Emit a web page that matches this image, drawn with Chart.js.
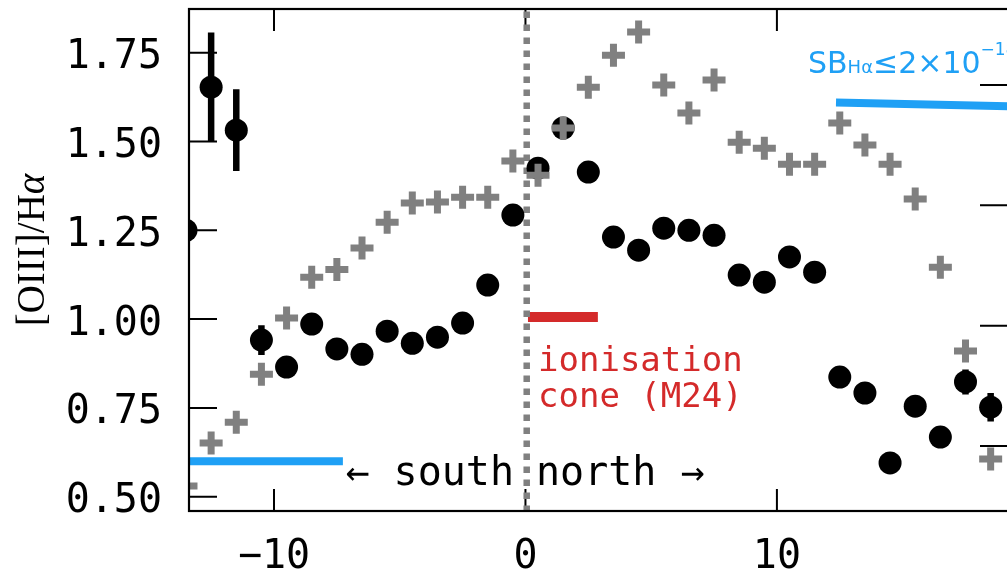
<!DOCTYPE html>
<html>
<head>
<meta charset="utf-8">
<script src="https://cdn.jsdelivr.net/npm/chart.js@4.4.1/dist/chart.umd.min.js"></script>
<style>
  html, body { margin: 0; padding: 0; background: #fff; overflow: hidden; }
  #wrap { width: 1040px; height: 573px; }
</style>
</head>
<body>
<div id="wrap"><canvas id="myChart"></canvas></div>
<script>
// offsets along the slit (x axis)
const positions = [-13.5, -12.5, -11.5, -10.5, -9.5, -8.5, -7.5, -6.5, -5.5, -4.5, -3.5,
  -2.5, -1.5, -0.5, 0.5, 1.5, 2.5, 3.5, 4.5, 5.5, 6.5, 7.5, 8.5, 9.5, 10.5, 11.5, 12.5,
  13.5, 14.5, 15.5, 16.5, 17.5, 18.5];

// black circles: [OIII]/Ha
const circleRatio = [1.25, 1.653, 1.532, 0.941, 0.865, 0.986, 0.916, 0.901, 0.966, 0.932, 0.949,
  0.989, 1.096, 1.293, 1.425, 1.538, 1.414, 1.231, 1.194, 1.256, 1.25, 1.236, 1.124, 1.104, 1.175,
  1.132, 0.837, 0.792, 0.595, 0.755, 0.668, 0.823, 0.752];
const circleErr = [0, 0.154, 0.115, 0.042, 0, 0, 0, 0, 0, 0, 0,
  0, 0, 0, 0, 0, 0, 0, 0, 0, 0, 0, 0, 0, 0,
  0, 0, 0, 0, 0, 0, 0.035, 0.04];

// grey crosses
const crossRatio = [0.53, 0.651, 0.71, 0.845, 1.003, 1.118, 1.14, 1.2, 1.273, 1.327, 1.33,
  1.343, 1.343, 1.445, 1.405, 1.538, 1.653, 1.743, 1.808, 1.659, 1.58, 1.673, 1.498, 1.481, 1.436,
  1.436, 1.552, 1.49, 1.436, 1.338, 1.146, 0.91, 0.606];

// reference lines
const coneX = [0.1, 2.88];
const coneY = [1.006, 1.006];
const sbSouthX = [-13.6, -7.26];
const sbSouthY = [0.60, 0.60];
const sbNorthX = [12.35, 19.5];
const sbNorthY = [1.6095, 1.599];
const centreX = 0.05;

const xTicks = [-10, 0, 10];
const yTicks = [0.50, 0.75, 1.00, 1.25, 1.50, 1.75];
const rightTicks = [0, 1, 2, 3];

const xMin = -13.42, xMax = 19.19;
const yMin = 0.457, yMax = 1.873;

const pts = (xs, ys) => xs.map((v, i) => ({ x: v, y: ys[i] }));

const MONO = "'DejaVu Sans Mono'";
Chart.defaults.font.family = MONO;
Chart.defaults.color = '#000';

const noPad = s => { s.paddingTop = 0; s.paddingBottom = 0; s.paddingLeft = 0; s.paddingRight = 0; };

const decor = {
  id: 'decor',
  beforeDatasetsDraw(chart) {
    const { ctx, chartArea: a, scales: { x, y, y2 } } = chart;
    ctx.save();
    ctx.strokeStyle = '#000';
    ctx.lineWidth = 2;
    ctx.beginPath();
    xTicks.forEach(v => {
      const px = x.getPixelForValue(v);
      ctx.moveTo(px, a.bottom); ctx.lineTo(px, a.bottom - 23);
      ctx.moveTo(px, a.top); ctx.lineTo(px, a.top + 22);
    });
    yTicks.forEach(v => {
      const py = y.getPixelForValue(v);
      ctx.moveTo(a.left, py); ctx.lineTo(a.left + 29, py);
    });
    rightTicks.forEach(v => {
      const py = y2.getPixelForValue(v);
      ctx.moveTo(a.right, py); ctx.lineTo(a.right - 28, py);
    });
    ctx.stroke();

    // error bars
    ctx.beginPath();
    ctx.rect(a.left, a.top, a.right - a.left, a.bottom - a.top);
    ctx.clip();
    ctx.lineWidth = 6.5;
    ctx.beginPath();
    circleErr.forEach((e, i) => {
      if (!e) return;
      const px = x.getPixelForValue(positions[i]);
      ctx.moveTo(px, y.getPixelForValue(circleRatio[i] - e));
      ctx.lineTo(px, y.getPixelForValue(circleRatio[i] + e));
    });
    ctx.stroke();
    ctx.restore();
  },
  afterDatasetsDraw(chart) {
    const { ctx, chartArea: a } = chart;
    ctx.save();
    ctx.strokeStyle = '#000';
    ctx.lineWidth = 2.2;
    ctx.strokeRect(a.left + 1, a.top, a.right - a.left, a.bottom - a.top - 1);
    ctx.restore();
  },
  afterDraw(chart) {
    const { ctx } = chart;
    ctx.save();

    // cone label
    ctx.fillStyle = '#d42a2a';
    ctx.font = '34px ' + MONO;
    ctx.textAlign = 'left';
    ctx.textBaseline = 'alphabetic';
    ctx.fillText('ionisation', 538, 371);
    ctx.fillText('cone (M24)', 538, 407);

    // south / north
    ctx.fillStyle = '#000';
    ctx.font = '40px ' + MONO;
    ctx.textAlign = 'right';
    ctx.fillText('\u2190 south', 514, 485);
    ctx.textAlign = 'left';
    ctx.fillText('north \u2192', 536, 485);

    // SB label
    const sb = "'DejaVu Sans'";
    ctx.fillStyle = '#1fa0f5';
    let cx = 808;
    const part = (t, size, base) => {
      ctx.font = size + 'px ' + sb;
      ctx.fillText(t, cx, base);
      cx += ctx.measureText(t).width;
    };
    part('SB', 30, 73);
    part('H\u03b1', 18, 73);
    part('\u2264', 30, 73);
    part('2\u00d710', 30, 73);
    part('\u221218', 17, 55);

    // y axis title
    ctx.fillStyle = '#000';
    ctx.translate(44, 250);
    ctx.rotate(-Math.PI / 2);
    const f1 = "39px 'Liberation Serif'";
    const f2 = "italic 39px 'Liberation Serif'";
    ctx.font = f1;
    const w1 = ctx.measureText('[OIII]/H').width;
    ctx.font = f2;
    const w2 = ctx.measureText('\u03b1').width;
    const start = -(w1 + w2) / 2;
    ctx.font = f1;
    ctx.fillText('[OIII]/H', start, 0);
    ctx.font = f2;
    ctx.fillText('\u03b1', start + w1, 0);
    ctx.restore();
  }
};

const ctx = document.getElementById('myChart');

new Chart(ctx, {
  type: 'scatter',
  data: {
    datasets: [
      {
        label: 'crosses',
        data: pts(positions, crossRatio),
        pointStyle: 'cross',
        pointRadius: 11.5,
        pointBorderWidth: 7,
        borderColor: '#808080',
        backgroundColor: '#808080',
        clip: 0
      },
      {
        label: 'circles',
        data: pts(positions, circleRatio),
        pointStyle: 'circle',
        pointRadius: 11.5,
        pointBorderWidth: 0,
        backgroundColor: '#000',
        borderColor: '#000',
        clip: 0
      },
      {
        label: 'centre',
        type: 'line',
        data: [{ x: centreX, y: yMin }, { x: centreX, y: yMax }],
        borderColor: '#808080',
        borderWidth: 6.5,
        borderDash: [6.5, 6.5],
        pointRadius: 0,
        clip: 0
      },
      {
        label: 'cone',
        type: 'line',
        data: pts(coneX, coneY),
        borderColor: '#d42a2a',
        borderWidth: 10,
        pointRadius: 0,
        clip: 0
      },
      {
        label: 'sb south',
        type: 'line',
        data: pts(sbSouthX, sbSouthY),
        borderColor: '#1fa0f5',
        borderWidth: 8,
        pointRadius: 0,
        clip: 0
      },
      {
        label: 'sb north',
        type: 'line',
        data: pts(sbNorthX, sbNorthY),
        borderColor: '#1fa0f5',
        borderWidth: 8,
        pointRadius: 0,
        clip: 0
      }
    ]
  },
  options: {
    responsive: true,
    maintainAspectRatio: false,
    animation: false,
    events: [],
    layout: { autoPadding: false, padding: { top: 9, left: 0, right: 0, bottom: 0 } },
    plugins: { legend: { display: false }, tooltip: { enabled: false } },
    scales: {
      x: {
        type: 'linear',
        min: xMin,
        max: xMax,
        grid: { display: false, drawTicks: false },
        border: { display: false },
        afterBuildTicks: s => { s.ticks = xTicks.map(v => ({ value: v })); },
        afterFit: s => { s.height = 61; noPad(s); },
        ticks: {
          font: { size: 40 },
          color: '#000',
          padding: 22,
          maxRotation: 0,
          autoSkip: false,
          callback: v => String(v).replace('-', '\u2212')
        }
      },
      y: {
        min: yMin,
        max: yMax,
        grid: { display: false, drawTicks: false },
        border: { display: false },
        afterBuildTicks: s => { s.ticks = yTicks.map(v => ({ value: v })); },
        afterFit: s => { s.width = 188; noPad(s); },
        ticks: {
          font: { size: 40 },
          color: '#000',
          padding: 26,
          labelOffset: 5,
          callback: v => v.toFixed(2)
        }
      },
      y2: {
        position: 'right',
        min: -0.549,
        max: 3.632,
        grid: { display: false, drawTicks: false },
        border: { display: false },
        afterBuildTicks: s => { s.ticks = rightTicks.map(v => ({ value: v })); },
        afterFit: s => { s.width = 32; noPad(s); },
        ticks: { display: false }
      }
    }
  },
  plugins: [decor]
});
</script>
</body>
</html>
